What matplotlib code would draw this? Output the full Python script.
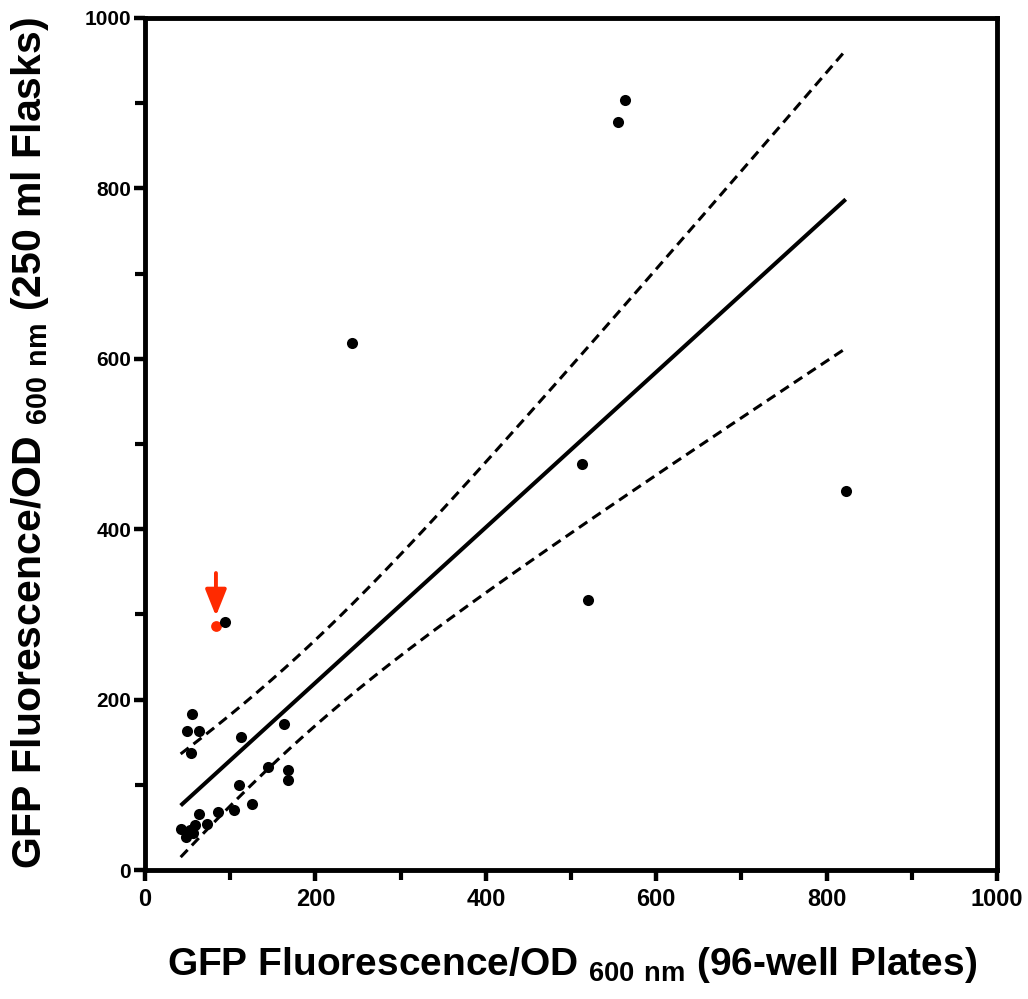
import matplotlib
matplotlib.use("Agg")
import matplotlib.pyplot as plt
import numpy as np

# plate vs flask GFP/OD600 values
plate_x = [93.9, 55.5, 48.9, 63.4, 53.6, 112.7, 163.5, 144.0, 168.2, 168.2,
           110.0, 126.0, 104.5, 85.7, 63.4, 72.4, 41.9, 58.7, 52.8, 56.7,
           48.1, 563.0, 554.8, 242.8, 512.6, 519.6, 822.3]
flask_y = [290.7, 183.5, 163.0, 163.0, 138.0, 155.7, 171.7, 121.3, 118.0, 106.2,
           100.0, 77.5, 70.4, 68.8, 66.4, 54.0, 48.8, 52.8, 47.6, 43.0,
           39.0, 903.8, 878.0, 618.5, 476.5, 316.9, 444.8]

# highlighted strain (red, arrow)
red_x = [83.3]
red_y = [286.7]

# linear fit and 95% band
fit_slope = 0.9116
fit_icpt = 37.6
band_min = 49.8
band_center = 174.8
band_growth = 0.259

ticks = [0, 200, 400, 600, 800, 1000]
minor = [100, 300, 500, 700, 900]

font = 'Liberation Sans'
plt.rcParams['font.family'] = [font, 'DejaVu Sans']
plt.rcParams['font.weight'] = 'bold'
plt.rcParams['mathtext.fontset'] = 'custom'
plt.rcParams['mathtext.rm'] = font + ':bold'
plt.rcParams['mathtext.bf'] = font + ':bold'

fig = plt.figure(figsize=(10.28, 9.99), dpi=100)
ax = fig.add_axes([0.141, 0.129, 0.829, 0.853])

all_x = np.array(plate_x + red_x)
xs = np.linspace(all_x.min(), all_x.max(), 200)
yfit = fit_icpt + fit_slope * xs
hw = np.sqrt(band_min**2 + (band_growth * (xs - band_center))**2)

ax.plot(xs, yfit, color='black', lw=2.9, solid_capstyle='butt')
for sign in (1, -1):
    ln, = ax.plot(xs, yfit + sign * hw, color='black', lw=2.2)
    ln.set_dashes((3.3, 2.0))

ax.scatter(red_x, red_y, s=60, color='#ff2a00', zorder=3, linewidths=0)
ax.scatter(plate_x, flask_y, s=64, color='black', zorder=4, linewidths=0)

ax.annotate('', xy=(red_x[0], red_y[0]), xytext=(0, 38), textcoords='offset points',
            arrowprops=dict(arrowstyle='-|>,head_length=0.8,head_width=0.32',
                            mutation_scale=20, color='#ff2a00', lw=2.8,
                            shrinkA=0, shrinkB=7))

ax.set_xlim(0, 1000)
ax.set_ylim(0, 1000)
ax.set_xticks(ticks)
ax.set_yticks(ticks)
ax.set_xticks(minor, minor=True)
ax.set_yticks(minor, minor=True)
for s in ax.spines.values():
    s.set_linewidth(3.5)
ax.tick_params(which='major', length=8, width=3.2, direction='out', top=False, right=False)
ax.tick_params(which='minor', length=7, width=3.0, direction='out', top=False, right=False)
ax.tick_params(axis='x', labelsize=17, pad=5)
ax.tick_params(axis='y', labelsize=15, pad=2)

fig.text(0.556, 0.034, r'GFP Fluorescence/OD $_{\mathrm{600\ nm}}$ (96-well Plates)',
         fontsize=28, ha='center', va='center')
fig.text(0.029, 0.557, r'GFP Fluorescence/OD $_{\mathrm{600\ nm}}$ (250 ml Flasks)',
         fontsize=29.5, ha='center', va='center', rotation=90)

fig.savefig('out.png', dpi=100)
